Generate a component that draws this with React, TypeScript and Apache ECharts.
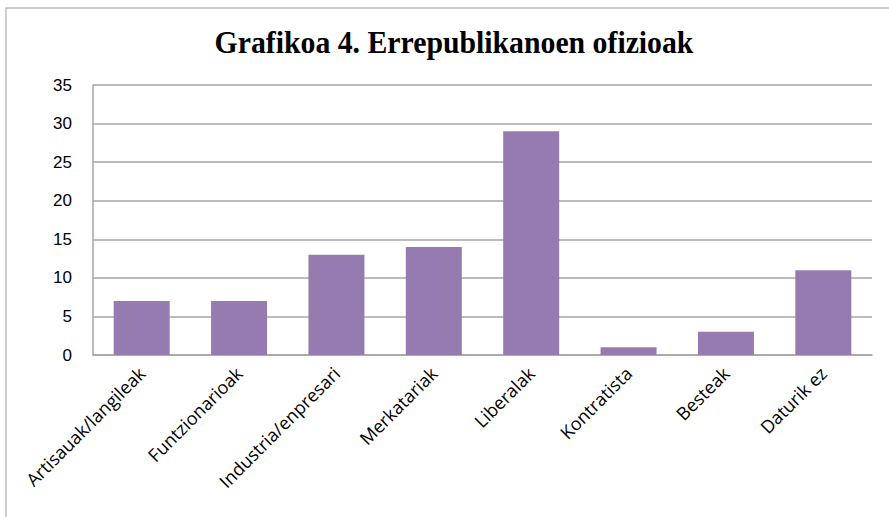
import React, { useEffect, useRef } from "react";
import * as echarts from "echarts";

const titleText = "Grafikoa 4. Errepublikanoen ofizioak";
const categories = [
  "Artisauak/langileak",
  "Funtzionarioak",
  "Industria/enpresari",
  "Merkatariak",
  "Liberalak",
  "Kontratista",
  "Besteak",
  "Daturik ez",
];
const values = [7, 7, 13, 14, 29, 1, 3, 11];
const yMin = 0;
const yMax = 35;
const yStep = 5;

export default function App() {
  const ref = useRef<HTMLDivElement>(null);
  useEffect(() => {
    if (!ref.current) return;
    const chart = echarts.init(ref.current, undefined, { renderer: "svg" });
    chart.setOption({
      animation: false,
      backgroundColor: "#ffffff",
      graphic: [
        {
          type: "rect",
          shape: { x: 6, y: 8, width: 900, height: 600 },
          style: { fill: "none", stroke: "#BFBFBF", lineWidth: 1.5 },
          silent: true,
        },
        {
          type: "text",
          x: 454,
          y: 42,
          scaleX: 0.93,
          style: {
            text: titleText,
            font: "bold 32px 'Liberation Serif', 'Times New Roman', serif",
            fill: "#000",
            align: "center",
            verticalAlign: "middle",
          },
        },
      ],
      grid: { left: 93, right: 17, top: 85, bottom: 162, containLabel: false },
      xAxis: {
        type: "category",
        data: categories,
        axisLine: { lineStyle: { color: "#A6A6A6", width: 1.5 } },
        axisTick: { show: false },
        axisLabel: {
          rotate: 45,
          interval: 0,
          margin: 15,
          fontFamily: "'Open Sans', 'Noto Sans', sans-serif",
          fontSize: 18,
          color: "#000",
        },
      },
      yAxis: {
        type: "value",
        min: yMin,
        max: yMax,
        interval: yStep,
        axisLine: { show: true, lineStyle: { color: "#A6A6A6", width: 1.5 } },
        axisTick: { show: false },
        splitLine: { lineStyle: { color: "#A6A6A6", width: 1.5 } },
        axisLabel: {
          margin: 21,
          fontFamily: "'Liberation Sans', Arial, sans-serif",
          fontSize: 17,
          color: "#000",
        },
      },
      series: [
        {
          type: "bar",
          data: values,
          barWidth: "57.5%",
          itemStyle: { color: "#967BB1" },
        },
      ],
    });
    return () => chart.dispose();
  }, []);
  return <div ref={ref} style={{ width: 889, height: 517, position: "absolute", left: 0, top: 0 }} />;
}
